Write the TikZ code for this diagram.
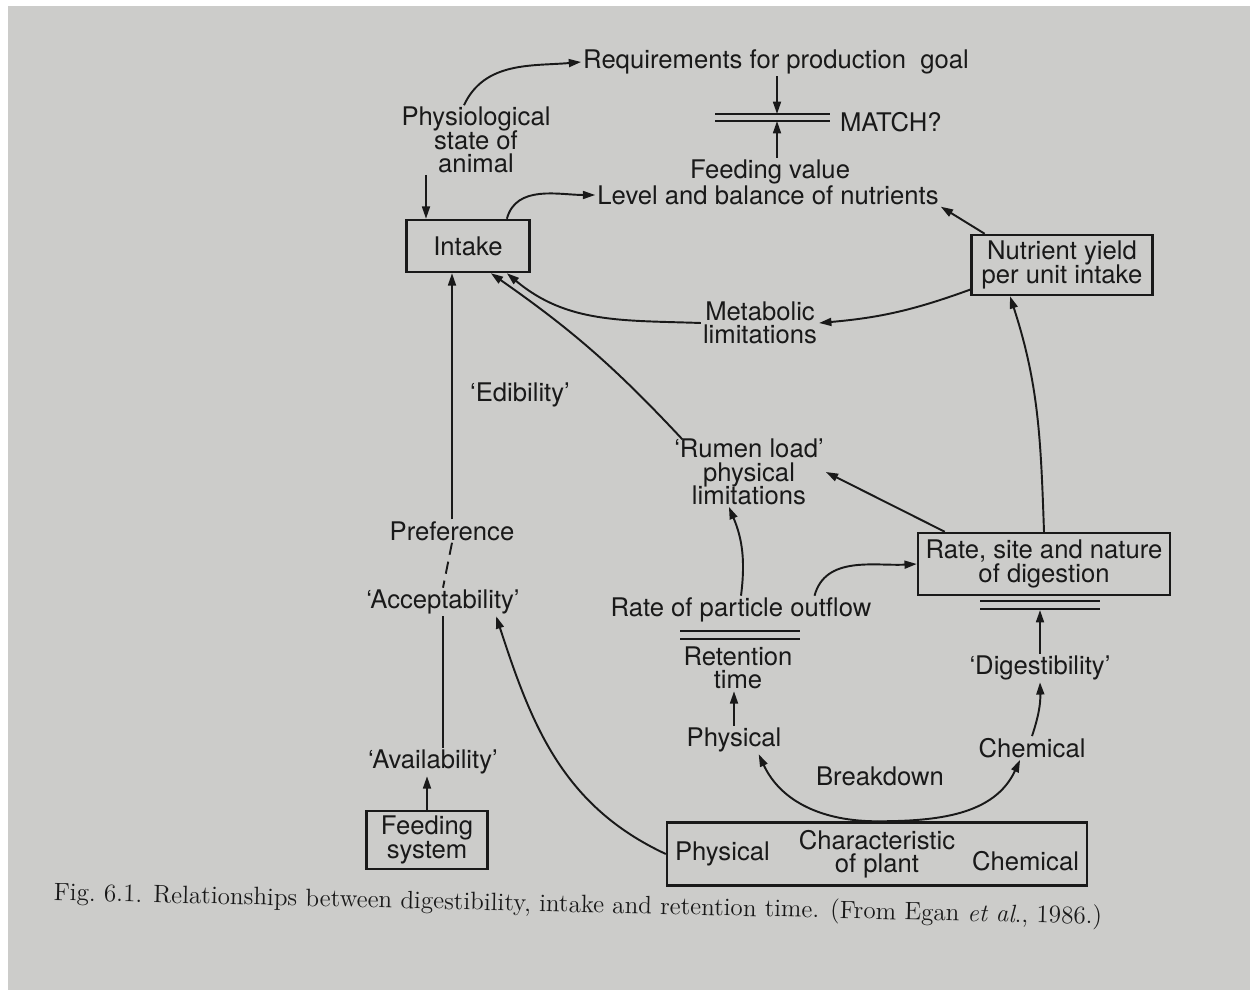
\documentclass[tikz,border=0pt]{standalone}
\usepackage{fontspec}
\setsansfont{TeX Gyre Heros}
\usetikzlibrary{arrows.meta}
\definecolor{page}{RGB}{204,204,202}
\definecolor{ink}{RGB}{25,25,25}
\lineskiplimit=-6pt
\begin{document}
\begin{tikzpicture}[x=0.02cm,y=-0.02cm]
\tikzstyle{every node}=[text=ink,font={\sffamily\fontsize{14.6}{13.2}\selectfont},align=center,inner sep=1pt]
\tikzstyle{box}=[draw=ink,line width=1.4pt,inner sep=3pt]
\tikzstyle{arr}=[draw=ink,line width=1.1pt,-{Triangle[length=7pt,width=4.5pt]}]
\tikzstyle{link}=[draw=ink,line width=1.1pt]

\useasboundingbox (0,0) rectangle (1260,1003);
\fill[white] (0,0) rectangle (1260,1003);
\fill[page] (8,6) rectangle (1250,990);

%%%------------------------------------------------------------------------------------------------------------
% top part
\node (req) at (776,62) {Requirements for production\ \ goal};
\node[anchor=west] (match) at (838,122) {MATCH?};
\node (phys) at (476,140) {Physiological\\state of\\animal};
\node (feedval) at (770,172) {Feeding value};
\node (level) at (768,195) {Level and balance of nutrients};
\node[box,minimum width=2.46cm,minimum height=1.04cm] (intake) at (468,246) {Intake};
\node[box,minimum width=3.62cm,minimum height=1.2cm] (nutr) at (1062,265) {Nutrient yield\\per unit intake};
\node (metab) at (760,323) {Metabolic\\limitations};
\coordinate (mt) at (777,114);
\coordinate (mb) at (777,121);
\draw[link] (715,114)--(830,114) (715,121)--(830,121);
\coordinate (ia) at (426,0);

\draw[arr] (phys.north) ++(-12,0) to[out=65,in=185] (req.west);
\draw[arr] (req.south -| mt) -- (mt);
\draw[arr] (feedval.north -| mb) -- (mb);
\draw[arr] (ia |- phys.south) -- (ia |- intake.north);
\draw[arr] (intake.35) to[out=75,in=180] (level.west);
\draw[arr] (nutr.158) -- (level.south east);
\draw[arr] (nutr.195) to[out=200,in=5] (metab.east);
\draw[arr] (metab.west) to[out=178,in=-40] (intake.-35);

%%%------------------------------------------------------------------------------------------------------------
% left column
\node (edib) at (520,395) {`Edibility'};
\node (pref) at (452,531) {Preference};
\node (accept) at (443,602) {`Acceptability'};
\node (avail) at (433,762) {`Availability'};
\node[box,minimum width=2.42cm,minimum height=1.1cm] (feed) at (427,840) {Feeding\\system};

\draw[arr] (pref.north) -- (pref.north |- intake.south);
\draw[link,dashed,dash pattern=on 7pt off 4pt] (pref.south) -- (accept.north);
\draw[link] (accept.south) -- (accept.south |- avail.north);
\draw[arr] (feed.north) -- (feed.north |- avail.south);

%%%------------------------------------------------------------------------------------------------------------
% middle and right
\node (rumen) at (749,472) {`Rumen load'\\physical\\limitations};
\node (outflow) at (741,610) {Rate of particle outflow};
\node (retention) at (738,668) {Retention\\time};
\node (physB) at (734,740) {Physical};
\node (breakdown) at (880,776) {Breakdown};
\node (chemB) at (1032,748) {Chemical};
\node (digest) at (1040,668) {`Digestibility'};
\node[box,minimum width=5.04cm,minimum height=1.24cm] (rate) at (1044,564) {Rate, site and nature\\of digestion};
\node[box,minimum width=8.4cm,minimum height=1.26cm] (plant) at (877,854) {Characteristic\\of plant};
\node[anchor=west] (plantP) at (plant.west) {\ Physical};
\node[anchor=east] (plantC) at ([yshift=-4pt]plant.east) {Chemical\ };
\draw[link] (680,631)--(800,631) (680,639)--(800,639);
\draw[link] (980,601)--(1100,601) (980,609)--(1100,609);
\coordinate (rb) at (1040,610);

\draw[arr] (rumen.north west) ++(10,2) to[bend right=6] (intake.-50);
\draw[arr] (outflow.north) to[bend right=15] (rumen.-120);
\draw[arr] (outflow.11) to[out=75,in=183] (rate.west);
\draw[arr] (rate.162) -- (rumen.east);
\draw[arr] (rate.north) to[out=92,in=-72] (nutr.-149);
\draw[arr] (digest.north) -- (rb);
\draw[arr] (chemB.north) to[bend right=10] (digest.south);
\draw[arr] (physB.north) -- (physB.north |- retention.south);
\draw[arr] (plant.north) to[out=180,in=-65] (physB.-30);
\draw[arr] (plant.north) to[out=0,in=-115] (chemB.-135);
\draw[arr] (plant.west) to[out=155,in=-72] (accept.-15);

%%%------------------------------------------------------------------------------------------------------------
\node[font={\rmfamily\fontsize{14.3}{16}\selectfont},rotate=-1.3] (caption) at (578,906) {Fig.~6.1. Relationships between digestibility, intake and retention time. (From Egan \textit{et al}., 1986.)};
\end{tikzpicture}
\end{document}
